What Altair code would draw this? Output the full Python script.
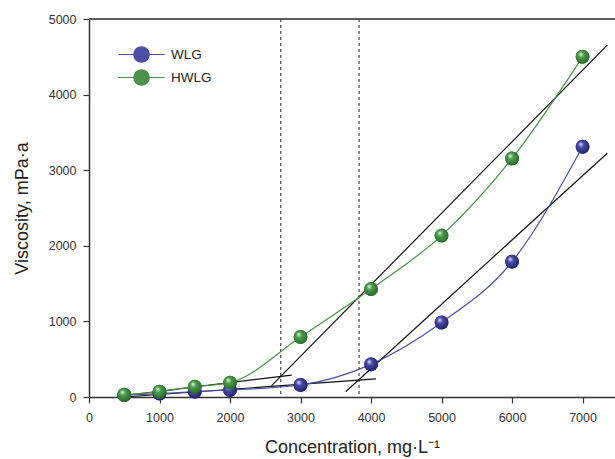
import altair as alt
import pandas as pd

conc = [500, 1000, 1500, 2000, 3000, 4000, 5000, 6000, 7000]
wlg = [26, 45, 70, 93, 159, 432, 985, 1790, 3310]
hwlg = [30, 70, 136, 190, 794, 1428, 2135, 3155, 4500]
series = ["WLG", "HWLG"]
colors = ["#4e4ea2", "#4d904d"]

# tangent segments (data coords)
seg_x1 = [500, 500, 2590, 3640]
seg_y1 = [20, 0, 150, 70]
seg_x2 = [2875, 4070, 7350, 7350]
seg_y2 = [290, 240, 4655, 3225]

vlines = [2720, 3830]

rows = []
for c, a, b in zip(conc, wlg, hwlg):
    rows.append({"conc": c, "visc": a, "series": "WLG"})
    rows.append({"conc": c, "visc": b, "series": "HWLG"})
df = pd.DataFrame(rows)
seg = pd.DataFrame({"x1": seg_x1, "y1": seg_y1, "x2": seg_x2, "y2": seg_y2})
vl = pd.DataFrame({"x": vlines})

font = "Liberation Sans"
xscale = alt.Scale(domain=[0, 7460], nice=False)
yscale = alt.Scale(domain=[0, 5000], nice=False)

xaxis = alt.Axis(values=[0, 1000, 2000, 3000, 4000, 5000, 6000, 7000], grid=False, format="d",
                 domainColor="#333", domainWidth=1.5, tickColor="#333", tickSize=6, tickWidth=1.2,
                 labelFont=font, labelFontSize=12.5, labelColor="#333", labelPadding=8,
                 title="Concentration, mg·L⁻¹", titleFont=font, titleFontSize=18,
                 titleFontWeight="normal", titleColor="#222", titlePadding=15, labelFlush=False)
yaxis = alt.Axis(values=[0, 1000, 2000, 3000, 4000, 5000], grid=False, format="d",
                 domainColor="#333", domainWidth=1.5, tickColor="#333", tickSize=6, tickWidth=1.2,
                 labelFont=font, labelFontSize=12.5, labelColor="#333", labelPadding=7,
                 title="Viscosity, mPa·a", titleFont=font, titleFontSize=18,
                 titleFontWeight="normal", titleColor="#222", titlePadding=17, labelFlush=False)

color_scale = alt.Scale(domain=series, range=colors)

base_x = alt.X("conc:Q", scale=xscale, axis=xaxis)
base_y = alt.Y("visc:Q", scale=yscale, axis=yaxis)

legend_path = "M-3,0L3,0M1,0A1,1,0,1,1,-1,0A1,1,0,1,1,1,0Z"

def make_legend():
    return alt.Legend(title=None, orient="none", legendX=44, legendY=27,
                      symbolType=legend_path, symbolSize=240, symbolStrokeWidth=1.2,
                      labelFont=font, labelFontSize=13.5, labelColor="#222",
                      labelOffset=21, rowPadding=2, padding=0)

lines = alt.Chart(df).mark_line(interpolate="monotone", strokeWidth=1.2).encode(
    x=base_x, y=base_y,
    stroke=alt.Stroke("series:N", scale=color_scale, sort=series, legend=make_legend()),
)

flat_pts = alt.Chart(df).mark_point(shape="circle", filled=True, size=190, opacity=1).encode(
    x="conc:Q", y="visc:Q",
    fill=alt.Fill("series:N", scale=color_scale, sort=series, legend=make_legend()),
)

def grad(light, mid, dark):
    return alt.RadialGradient(
        gradient="radial", x1=0.36, y1=0.3, r1=0.0, x2=0.45, y2=0.45, r2=0.6,
        stops=[alt.GradientStop(offset=0, color="#ffffff"),
               alt.GradientStop(offset=0.14, color=light),
               alt.GradientStop(offset=0.35, color=mid),
               alt.GradientStop(offset=1, color=dark)])

pts_w = alt.Chart(df).transform_filter(alt.datum.series == "WLG").mark_point(
    shape="circle", filled=True, size=195, opacity=1, strokeWidth=0,
    fill=grad("#a0a0dc", "#4a4aa6", "#1e1e66")).encode(x="conc:Q", y="visc:Q")
pts_h = alt.Chart(df).transform_filter(alt.datum.series == "HWLG").mark_point(
    shape="circle", filled=True, size=195, opacity=1, strokeWidth=0,
    fill=grad("#a0d4a0", "#4f9a4f", "#256625")).encode(x="conc:Q", y="visc:Q")

tangents = alt.Chart(seg).mark_rule(color="#111", strokeWidth=1.2).encode(
    x=alt.X("x1:Q", scale=xscale), y=alt.Y("y1:Q", scale=yscale),
    x2="x2:Q", y2="y2:Q")

dashed = alt.Chart(vl).mark_rule(color="#222", strokeWidth=1, strokeDash=[3, 3]).encode(
    x=alt.X("x:Q", scale=xscale))

top = alt.Chart(vl).mark_rule(color="#555", strokeWidth=1.5).encode(
    y=alt.datum(5000, scale=yscale))

chart = alt.layer(dashed, tangents, lines, flat_pts, pts_w, pts_h, top).properties(
    width=526, height=378,
    autosize=alt.AutoSizeParams(type="none"),
    padding={"left": 89, "top": 19, "right": 0, "bottom": 62},
).configure_view(stroke=None).configure(background="white")

chart.save("out.html", embed_options={"renderer": "svg", "actions": False})
